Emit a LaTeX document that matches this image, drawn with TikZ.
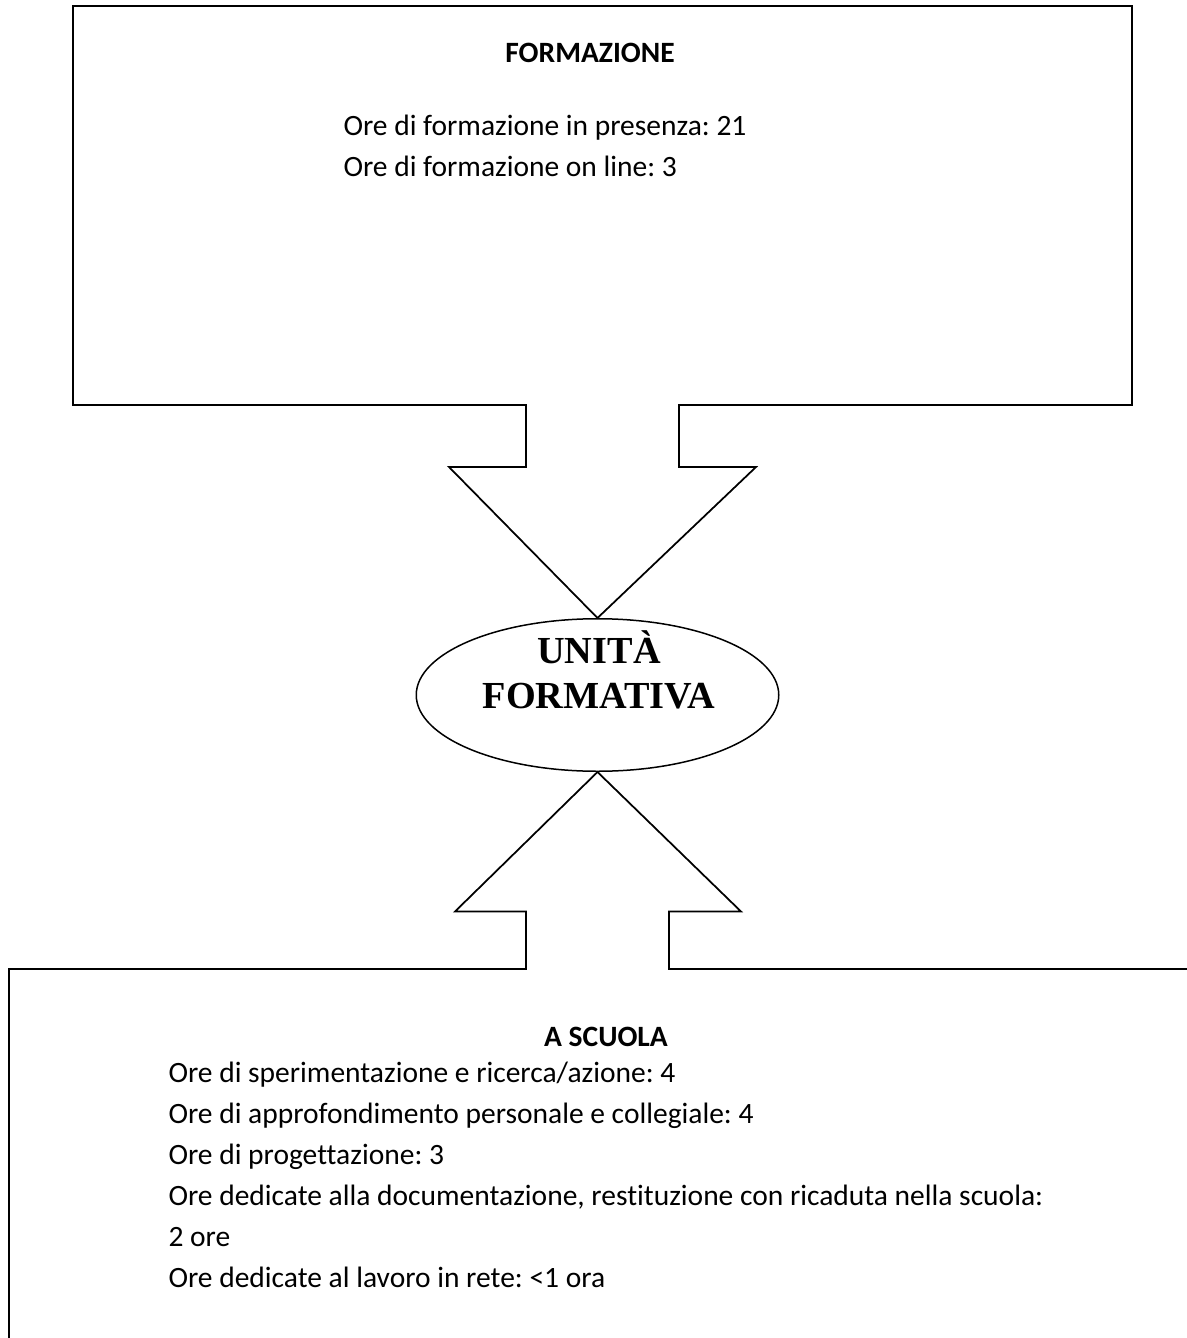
\documentclass[tikz,border=0pt]{standalone}
\usepackage{fontspec}
\setmainfont{Carlito}[Ligatures=CommonOff]
\newfontfamily\titlefont{Liberation Serif}
\usetikzlibrary{shapes.geometric}
\frenchspacing
\tikzset{
  contorno/.style={line width=0.7pt, line join=miter},
  ovale/.style={draw, line width=0.6pt, ellipse, inner sep=0pt,
    minimum width=145pt, minimum height=61pt},
  ovaletesto/.style={align=center, anchor=south, inner sep=0pt,
    font=\titlefont\bfseries\fontsize{15.3}{18}\selectfont},
  riga/.style={anchor=base west, inner sep=0pt, font=\fontsize{11.8}{14}\selectfont},
  titolo/.style={anchor=base, inner sep=0pt, font=\bfseries\fontsize{11.8}{14}\selectfont},
}

\begin{document}
\begin{tikzpicture}[x=0.4pt,y=-0.4pt]

\newcommand\passo{41}

  \useasboundingbox (0,0) rectangle (1186,1338);

  %% ellisse centrale
  \node[ovale] (uf) at (597.5,695) {};
  \node[ovaletesto] (uftesto) at (599,710) {UNITÀ\\FORMATIVA};

  %% riquadro in alto con freccia verso il basso
  \draw[contorno] (526,405) -- (73,405) -- (73,6) -- (1132,6) -- (1132,405)
    -- (679,405) -- (679,467) -- (756,467) -- (uf.north) -- (449,467)
    -- (526,467) -- cycle;

  %% riquadro in basso con freccia verso l'alto
  \draw[contorno] (1192,969) -- (669,969) -- (669,911.5) -- (741,911.5)
    -- (uf.south) -- (455,911.5) -- (526,911.5) -- (526,969) -- (9,969)
    -- (9,1344);

  \node[titolo] (formazione) at (590,63) {FORMAZIONE};
  \node[riga] (presenza) at (343,136) {Ore di formazione in presenza: 21};
  \node[riga] (online) at (343,136+\passo) {Ore di formazione on line: 3};

  \node[titolo] (scuola) at (606,1046) {A SCUOLA};
  \node[riga] (ricerca) at (168,1082) {Ore di sperimentazione e ricerca/azione: 4};
  \node[riga] (approf) at (168,1082+\passo) {Ore di approfondimento personale e collegiale: 4};
  \node[riga] (progett) at (168,1082+2*\passo) {Ore di progettazione: 3};
  \node[riga] (docum) at (168,1082+3*\passo) {Ore dedicate alla documentazione, restituzione con ricaduta nella scuola:};
  \node[riga] (dueore) at (168,1082+4*\passo) {2 ore};
  \node[riga] (rete) at (168,1082+5*\passo) {Ore dedicate al lavoro in rete: <1 ora};

\end{tikzpicture}
\end{document}
